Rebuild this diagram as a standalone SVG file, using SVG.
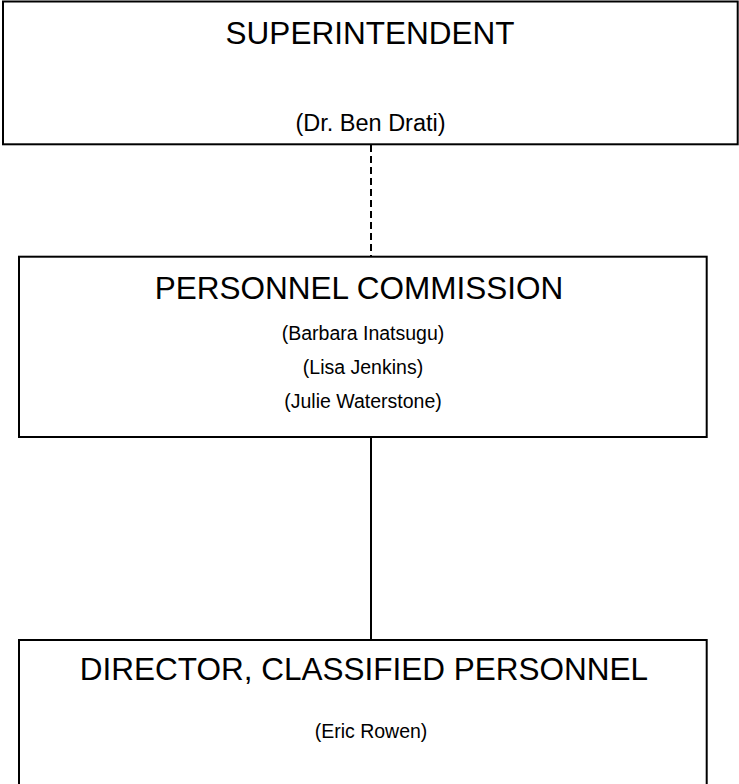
<svg xmlns="http://www.w3.org/2000/svg" width="739" height="784" viewBox="0 0 739 784">
<style>
.box{fill:#fff;stroke:#000;stroke-width:2}
.t{font-family:"Liberation Sans",Arial,sans-serif;fill:#000;text-anchor:middle}
.h{font-size:31.5px}
.n{font-size:19.5px}
.c{stroke:#000;stroke-width:2;fill:none}
</style>
<rect width="739" height="784" fill="#fff"/>
<g id="connectors">
<line class="c" x1="371" y1="145" x2="371" y2="256" stroke-dasharray="7,4"/>
<line class="c" x1="371" y1="437" x2="371" y2="640"/>
</g>
<g id="superintendent">
<rect class="box" x="3" y="1.5" width="734.7" height="142.8"/>
<text class="t h" x="370" y="44">SUPERINTENDENT</text>
<text class="t" x="370.5" y="131" font-size="23.5">(Dr. Ben Drati)</text>
</g>
<g id="personnel-commission">
<rect class="box" x="19" y="256.7" width="687.7" height="180.3"/>
<text class="t h" x="359" y="299">PERSONNEL COMMISSION</text>
<text class="t n" x="363" y="340">(Barbara Inatsugu)</text>
<text class="t n" x="363" y="374">(Lisa Jenkins)</text>
<text class="t n" x="363" y="408">(Julie Waterstone)</text>
</g>
<g id="director">
<rect class="box" x="19" y="640" width="687.7" height="160"/>
<text class="t h" x="364" y="680">DIRECTOR, CLASSIFIED PERSONNEL</text>
<text class="t n" x="371" y="738">(Eric Rowen)</text>
</g>
</svg>
